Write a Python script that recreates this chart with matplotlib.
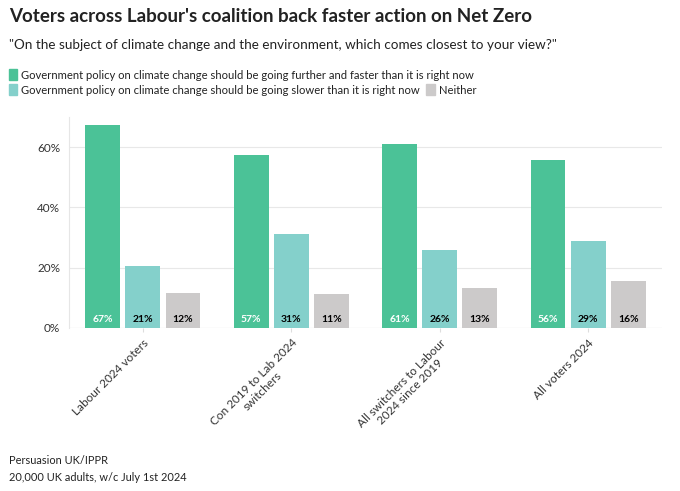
import matplotlib.pyplot as plt
import numpy as np

plt.rcParams['font.family'] = ['Lato', 'DejaVu Sans']

groups = ["Labour 2024 voters", "Con 2019 to Lab 2024\nswitchers",
          "All switchers to Labour\n2024 since 2019", "All voters 2024"]
faster = [67, 57, 61, 56]
slower = [21, 31, 26, 29]
neither = [12, 11, 13, 16]
faster_h = [67.3, 57.3, 61, 55.7]
slower_h = [20.7, 31, 25.7, 28.7]
neither_h = [11.7, 11.3, 13.3, 15.6]

series = [("Government policy on climate change should be going further and faster than it is right now", faster_h, faster, '#4bc297', 'white'),
          ("Government policy on climate change should be going slower than it is right now", slower_h, slower, '#84d0cb', 'black'),
          ("Neither", neither_h, neither, '#cccaca', 'black')]

fig = plt.figure(figsize=(6.8, 4.91), dpi=100)
ax = fig.add_axes([0.101, 0.332, 0.873, 0.43])
x = np.arange(len(groups))
w = 0.235
for i, (name, h, lab, col, tc) in enumerate(series):
    xs = x + (i - 1) * 0.27
    ax.bar(xs, h, width=w, color=col, zorder=2)
    for xx, v in zip(xs, lab):
        ax.text(xx, 1.2, f"{v}%", ha='center', va='bottom', fontsize=7.5,
                fontweight='bold', color=tc, zorder=3)

ax.set_xlim(-0.5, 3.5)
ax.set_ylim(0, 70)
ax.set_yticks([0, 20, 40, 60])
ax.set_yticklabels(["0%", "20%", "40%", "60%"], fontsize=8.5, color='#333333')
ax.yaxis.grid(True, color='#e8e8e8', lw=0.8, zorder=0)
for s in ['top', 'right', 'bottom']:
    ax.spines[s].set_visible(False)
ax.spines['left'].set_color('#e6e6e6')
ax.tick_params(axis='y', length=0, pad=6)
ax.tick_params(axis='x', length=3, color='#dddddd')
ax.set_xticks(x)
ax.set_xticklabels(groups, rotation=45, ha='right', rotation_mode='anchor',
                   fontsize=8.5, color='#333333', multialignment='center')
for t in ax.get_xticklabels():
    t.set_x(t.get_position()[0])
ax.axhline(0, color='#e0e0e0', lw=0.8, zorder=1)

fig.text(0.013, 0.955, "Voters across Labour's coalition back faster action on Net Zero",
         fontsize=13.5, fontweight='bold', color='#222222')
fig.text(0.013, 0.9, "\"On the subject of climate change and the environment, which comes closest to your view?\"",
         fontsize=9.7, color='#222222')

def legend_item(xf, yf, col, label):
    fig.patches.append(plt.Rectangle((xf, yf - 0.009), 0.012, 0.022, color=col,
                                     transform=fig.transFigure, figure=fig))
    fig.text(xf + 0.018, yf, label, fontsize=8.1, color='#222222', va='center')

legend_item(0.013, 0.847, series[0][3], series[0][0])
legend_item(0.013, 0.815, series[1][3], series[1][0])
legend_item(0.627, 0.815, series[2][3], series[2][0])

fig.text(0.013, 0.055, "Persuasion UK/IPPR", fontsize=7.9, color='#222222')
fig.text(0.013, 0.02, "20,000 UK adults, w/c July 1st 2024", fontsize=7.9, color='#222222')

fig.savefig("out.png", dpi=100)
